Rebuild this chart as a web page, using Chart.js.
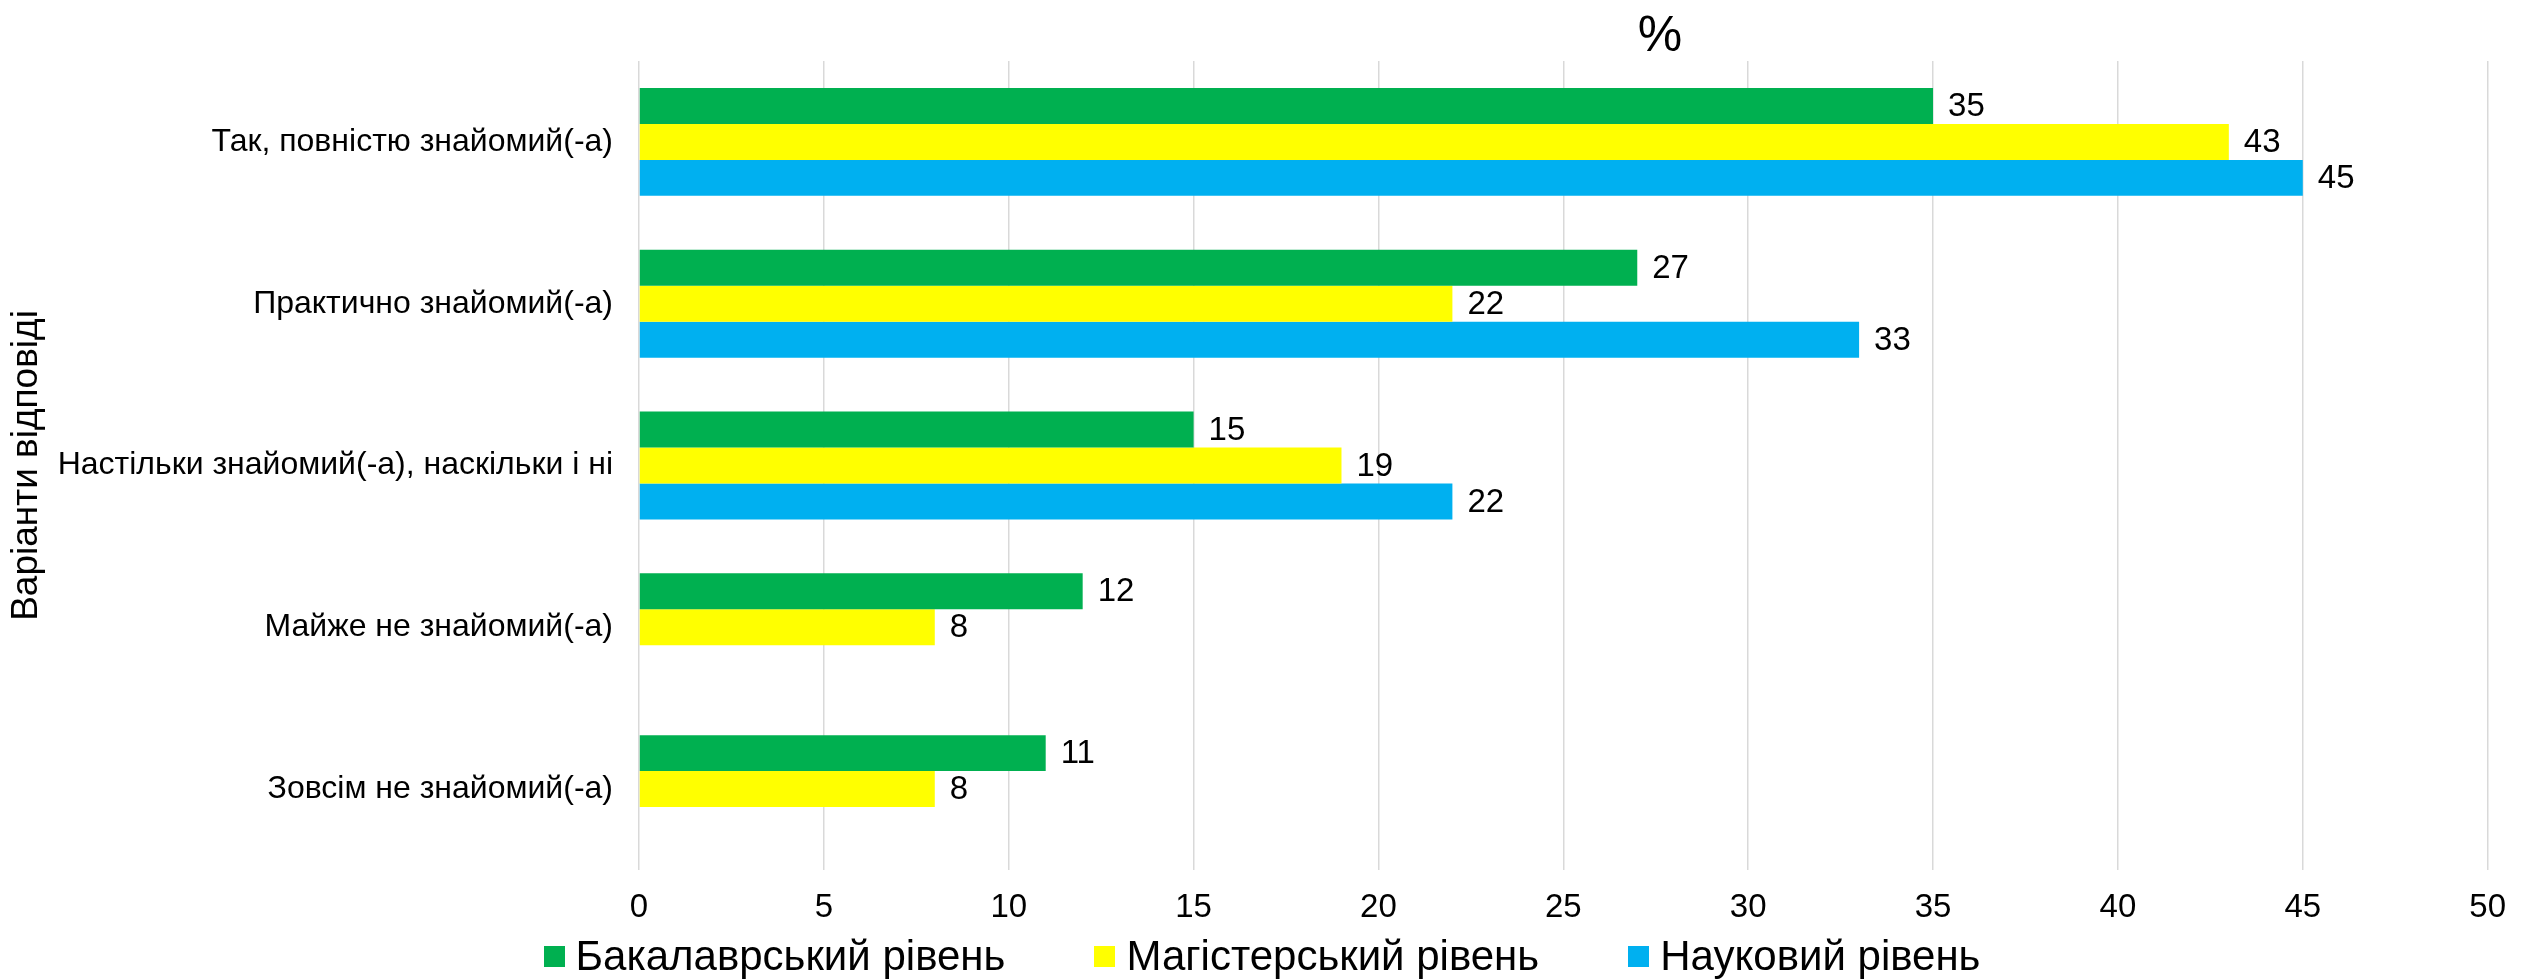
<!DOCTYPE html>
<html>
<head>
<meta charset="utf-8">
<script src="https://cdn.jsdelivr.net/npm/chart.js@4.4.1/dist/chart.umd.min.js"></script>
<style>
  body { margin: 0; background: #fff; }
  #wrap { position: relative; width: 2524px; height: 980px; }
  #pct {
    position: absolute; left: 1660px; top: 9px; transform: translateX(-50%);
    font: 50px/50px "Liberation Sans", Arial, sans-serif; color: #000;
  }
  #legend {
    position: absolute; left: 0; top: 932px; width: 2524px; height: 48px;
    display: flex; justify-content: center; align-items: center; gap: 89px;
    font: 42px/48px "Liberation Sans", Arial, sans-serif; color: #000;
  }
  #legend .item { display: flex; align-items: center; }
  #legend .box { width: 21px; height: 21px; margin-right: 11px; }
</style>
</head>
<body>
<div id="wrap">
  <canvas id="chart" width="2524" height="980"></canvas>
  <div id="pct">%</div>
  <div id="legend"></div>
</div>
<script>
var categories = ['Так, повністю знайомий(-а)', 'Практично знайомий(-а)', 'Настільки знайомий(-а), наскільки і ні', 'Майже не знайомий(-а)', 'Зовсім не знайомий(-а)']
var bachelor = [35, 27, 15, 12, 11]
var master = [43, 22, 19, 8, 8]
var science = [45, 33, 22, null, null]
var seriesNames = ['Бакалаврський рівень', 'Магістерський рівень', 'Науковий рівень']
var seriesColors = ['#00B050', '#FFFF00', '#00B0F0']
var xTicks = [0, 5, 10, 15, 20, 25, 30, 35, 40, 45, 50]

var fontFamily = '"Liberation Sans", Arial, sans-serif'
Chart.defaults.font.family = fontFamily
Chart.defaults.color = '#000'

// values printed at the end of each bar
var barValues = {
  id: 'barValues',
  afterDatasetsDraw: function(chart) {
    var ctx = chart.ctx
    ctx.save()
    ctx.font = '33px ' + fontFamily
    ctx.fillStyle = '#000'
    ctx.textAlign = 'left'
    ctx.textBaseline = 'middle'
    chart.data.datasets.forEach(function(ds, i) {
      chart.getDatasetMeta(i).data.forEach(function(bar, j) {
        if (ds.data[j] == null) return
        ctx.fillText(ds.data[j], bar.x + 15, bar.y + 1)
      })
    })
    ctx.restore()
  }
}

var allSeries = [bachelor, master, science]
var datasets = allSeries.map(function(values, i) {
  return {
    label: seriesNames[i],
    data: values,
    backgroundColor: seriesColors[i],
    barPercentage: 1,
    categoryPercentage: 0.667
  }
})

var chart = new Chart(document.getElementById('chart'), {
  type: 'bar',
  data: { labels: categories, datasets: datasets },
  plugins: [barValues],
  options: {
    indexAxis: 'y',
    responsive: false,
    animation: false,
    devicePixelRatio: 1,
    layout: { padding: { top: 61, right: 21, bottom: 50, left: 0 } },
    plugins: {
      legend: { display: false },
      tooltip: { enabled: false }
    },
    scales: {
      x: {
        min: xTicks[0],
        max: xTicks[xTicks.length - 1],
        afterBuildTicks: function(scale) {
          scale.ticks = xTicks.map(function(v) { return { value: v } })
        },
        afterFit: function(scale) { scale.height = 60 },
        ticks: { font: { size: 33 }, color: '#000', padding: 18 },
        grid: { color: '#d9d9d9', lineWidth: 1.5, drawTicks: false },
        border: { display: false }
      },
      y: {
        afterFit: function(scale) { scale.width = 639 },
        ticks: { font: { size: 32 }, color: '#000', padding: 26 },
        grid: { display: false, drawTicks: false },
        border: { display: false },
        title: {
          display: true,
          text: 'Варіанти відповіді',
          font: { size: 37 },
          color: '#000',
          padding: { top: 5, bottom: 0 }
        }
      }
    }
  }
})

var legend = document.getElementById('legend')
seriesNames.forEach(function(name, i) {
  var item = document.createElement('div')
  item.className = 'item'
  var box = document.createElement('span')
  box.className = 'box'
  box.style.background = seriesColors[i]
  var txt = document.createElement('span')
  txt.textContent = name
  item.appendChild(box)
  item.appendChild(txt)
  legend.appendChild(item)
})
</script>
</body>
</html>
